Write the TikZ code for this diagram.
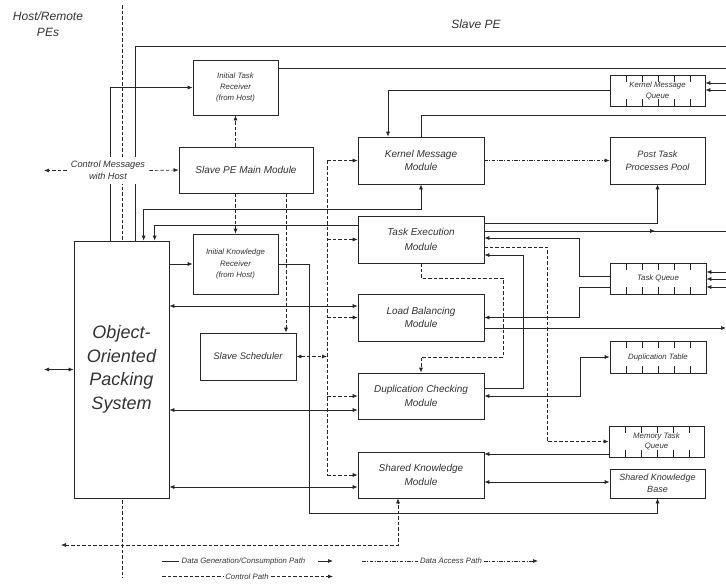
\documentclass[tikz,border=0pt]{standalone}
\usepackage{fontspec}
\setmainfont{Liberation Sans}
\usetikzlibrary{arrows.meta,decorations.markings}
\begin{document}
\begin{tikzpicture}[x=1pt,y=-1pt,
  line width=0.7pt,
  >={Latex[length=5pt,width=4pt]},
  every node/.style={text=black!80},
  box/.style={draw=black!85,fill=white,align=center,inner sep=1pt,font=\itshape\fontsize{10}{13.5}\selectfont},
  sbox/.style={box,font=\itshape\fontsize{7.8}{11}\selectfont},
  queue/.style={sbox,path picture={
     \foreach \i in {1,...,5}{
       \draw[black!85,line width=0.7pt] ([xshift=\i*16pt]path picture bounding box.north west) -- ++(0pt,-7pt);
       \draw[black!85,line width=0.7pt] ([xshift=\i*16pt]path picture bounding box.south west) -- ++(0pt,7pt);}}},
  conn/.style={draw=black!85},
  ctrl/.style={draw=black!85,dash pattern=on 3.5pt off 2pt},
  dacc/.style={draw=black!85,dash pattern=on 3.5pt off 1.5pt on 1pt off 1.5pt},
  lbl/.style={font=\itshape\fontsize{9.2}{12}\selectfont,align=center,inner sep=4pt},
  lg/.style={font=\itshape\fontsize{7.8}{10}\selectfont,inner sep=2pt},
  midarr/.style={postaction={decorate,decoration={markings,mark=at position 0.707 with {\arrow{>}}}}}
]
\useasboundingbox (0,0) rectangle (726,584);

% divider
\coordinate (dvT) at (122,5);
\coordinate (dvB) at (122,578);
\draw[ctrl] (dvT) -- (dvB);

% titles
\node[font=\itshape\fontsize{12}{16}\selectfont,align=center] (hr) at (48,24) {Host/Remote\\PEs};
\node[font=\itshape\fontsize{12}{16}\selectfont] (sp) at (476,24) {Slave PE};

% boxes
\node[sbox,minimum width=85pt,minimum height=55pt] (itr) at (235.5,87.5) {Initial Task\\Receiver\\(from Host)};
\node[box,minimum width=134pt,minimum height=46pt] (spmm) at (246,170) {Slave PE Main Module};
\node[box,minimum width=126pt,minimum height=47pt] (kmm) at (421,160.5) {Kernel Message\\Module};
\node[box,minimum width=95pt,minimum height=47pt,font=\itshape\fontsize{9.2}{12.5}\selectfont] (ptpp) at (657.5,160.5) {Post Task\\Processes Pool};
\node[box,minimum width=126pt,minimum height=47pt,font=\itshape\fontsize{10}{14.5}\selectfont] (tem) at (421,239.5) {Task Execution\\Module};
\node[sbox,minimum width=85pt,minimum height=60pt,font=\itshape\fontsize{7.8}{11.5}\selectfont] (ikr) at (235.5,264) {Initial Knowledge\\Receiver\\(from Host)};
\node[box,minimum width=95pt,minimum height=257pt,font=\itshape\fontsize{18}{23.5}\selectfont] (oops) at (121.5,369.5) {Object-\\Oriented\\Packing\\System};
\node[box,minimum width=126pt,minimum height=47pt] (lbm) at (421,317.5) {Load Balancing\\Module};
\node[box,minimum width=96pt,minimum height=47pt,font=\itshape\fontsize{9.5}{12}\selectfont] (ss) at (248,356.5) {Slave Scheduler};
\node[box,minimum width=126pt,minimum height=46pt] (dcm) at (421,396) {Duplication Checking\\Module};
\node[box,minimum width=126pt,minimum height=46pt] (skm) at (421,475) {Shared Knowledge\\Module};
\node[queue,minimum width=95pt,minimum height=31pt] (kmq) at (657.5,90.5) {Kernel Message\\Queue};
\node[queue,minimum width=96pt,minimum height=31pt] (tq) at (658,278.5) {Task Queue};
\node[queue,minimum width=96pt,minimum height=32pt] (dt) at (658,357) {Duplication Table};
\node[queue,minimum width=95pt,minimum height=31pt,font=\itshape\fontsize{7.8}{10}\selectfont] (mtq) at (656.5,441.5) {Memory Task\\Queue};
\node[box,minimum width=95pt,minimum height=29pt,font=\itshape\fontsize{9}{12}\selectfont] (skb) at (657.5,483.5) {Shared Knowledge\\Base};

% helper coordinates
\coordinate (eA) at (726,46);
\coordinate (eB) at (726,68);
\coordinate (eC) at (726,115);
\coordinate (eD) at (726,231);
\coordinate (eE) at (726,328);
\coordinate (k1) at (726,83);
\coordinate (k2) at (726,90);
\coordinate (t1) at (726,272);
\coordinate (t2) at (726,279);
\coordinate (t3) at (726,287);
\coordinate (hostL) at (44,369.5);
\coordinate (cmL) at (44,170.5);
\coordinate (botL) at (61,545);
\coordinate (bus) at (327,0);
\coordinate (xq) at (579,0);
\coordinate (xr) at (523,0);
\coordinate (xs) at (503,0);
\coordinate (xt) at (547,0);
\coordinate (xu) at (580,0);
\coordinate (xv) at (309,0);
\coordinate (xw) at (286,0);
\coordinate (yA) at (0,209);
\coordinate (yB) at (0,225);
\coordinate (yS) at (0,513);
\coordinate (yL) at (0,306);
\coordinate (yD) at (0,410);
\coordinate (yK) at (0,487);
\coordinate (yP) at (0,223);
\coordinate (yq1) at (0,276);
\coordinate (yq2) at (0,238);
\coordinate (yq3) at (0,287);
\coordinate (yr1) at (0,388);
\coordinate (yr2) at (0,255);
\coordinate (ys1) at (0,278);
\coordinate (ys2) at (0,357);
\coordinate (yt1) at (0,247);
\coordinate (ym) at (0,454);
\coordinate (yk2) at (0,482);

% solid connectors (top / left)
\draw[conn,->] ([xshift=37pt]oops.north west) |- (itr.west);
\draw[conn] ([xshift=62pt]oops.north west) |- (eA);
\draw[conn,<->] ([xshift=70pt]oops.north west) |- (kmm.south |- yA) -- (kmm.south);
\draw[conn,->] (tem.west |- yB) -| ([xshift=81pt]oops.north west);
\draw[conn] (itr.east |- eB) -- (eB);
\draw[conn,->] (kmq.west) -| ([xshift=-33pt]kmm.north);
\draw[conn] (kmm.north) |- (eC);
\draw[conn,->] (k1) -- (kmq.east |- k1);
\draw[conn,->] (k2) -- (kmq.east |- k2);
\draw[conn,->] (oops.east |- ikr.west) -- (ikr.west);
\draw[conn,->] (ikr.east) -| (xv |- yS) -| (skb.south);

% control from main module
\draw[ctrl,->] (spmm.north -| itr.south) -- (itr.south);
\draw[ctrl,->] (spmm.south -| ikr.north) -- (ikr.north);
\draw[ctrl,->] (spmm.south -| xw) -- (ss.north -| xw);

% control bus
\draw[ctrl] (kmm.west -| bus) -- (skm.west -| bus);
\foreach \n in {kmm,tem,lbm,dcm,skm} \draw[ctrl,->] (\n.west -| bus) -- (\n.west);
\draw[ctrl,<->] (ss.east) -- (ss.east -| bus);

% OOPS links
\draw[conn,<->] (oops.east |- yL) -- (lbm.west |- yL);
\draw[conn,<->] (oops.east |- yD) -- (dcm.west |- yD);
\draw[conn,<->] (oops.east |- yK) -- (skm.west |- yK);
\draw[conn,<->] (oops.west) -- (hostL);
\draw[ctrl,<->] (botL) -| ([xshift=-23pt]skm.south);

% right side
\draw[dacc,->] (kmm.east) -- (ptpp.west);
\draw[conn,->] (tem.east |- yP) -| (ptpp.south);
\draw[conn,midarr] (tem.east |- eD) -- (eD);
\draw[conn,->] (tq.west |- yq1) -| (xq |- yq2) -- (tem.east |- yq2);
\draw[conn,->] (tq.west |- yq3) -| (xq |- lbm.east) -- (lbm.east);
\draw[conn,->] (dcm.east |- yr1) -| (xr |- yr2) -- (tem.east |- yr2);
\draw[ctrl,->] (tem.south) |- (xs |- ys1) |- (dcm.north |- ys2) -- (dcm.north);
\draw[ctrl,->] (tem.east |- yt1) -| (xt |- mtq.west) -- (mtq.west);
\draw[conn,->] (lbm.east |- eE) -- (eE);
\draw[conn,<->] (dcm.east) -| (xu |- dt.west) -- (dt.west);
\draw[conn,->] (mtq.west |- ym) -- (skm.east |- ym);
\draw[conn,<->] (skm.east |- yk2) -- (skb.west |- yk2);
\draw[conn,->] (t1) -- (tq.east |- t1);
\draw[conn,->] (t2) -- (tq.east |- t2);
\draw[conn,->] (t3) -- (tq.east |- t3);

% control messages with host
\node[lbl,fill=white] (cm) at (108,170.5) {Control Messages\\with Host};
\draw[ctrl,->] (cm.west) -- (cmL);
\draw[ctrl,->] (cm.east) -- (spmm.west);

% legend
\node[lg] (lg1) at (243.5,561) {Data Generation/Consumption Path};
\coordinate (l1a) at (162,561);
\coordinate (l1b) at (318,561);
\coordinate (l1c) at (333,561);
\draw[conn] (l1a) -- (lg1.west);
\draw[conn,->] (l1b) -- (l1c);
\node[lg] (lg2) at (247,576.5) {Control Path};
\coordinate (l2a) at (162,576.5);
\coordinate (l2c) at (333,576.5);
\draw[ctrl] (l2a) -- (lg2.west);
\draw[ctrl,->] (lg2.east) -- (l2c);
\node[lg] (lg3) at (451,561) {Data Access Path};
\coordinate (l3a) at (362,561);
\coordinate (l3c) at (538,561);
\draw[dacc] (l3a) -- (lg3.west);
\draw[dacc,->] (lg3.east) -- (l3c);
\end{tikzpicture}
\end{document}
